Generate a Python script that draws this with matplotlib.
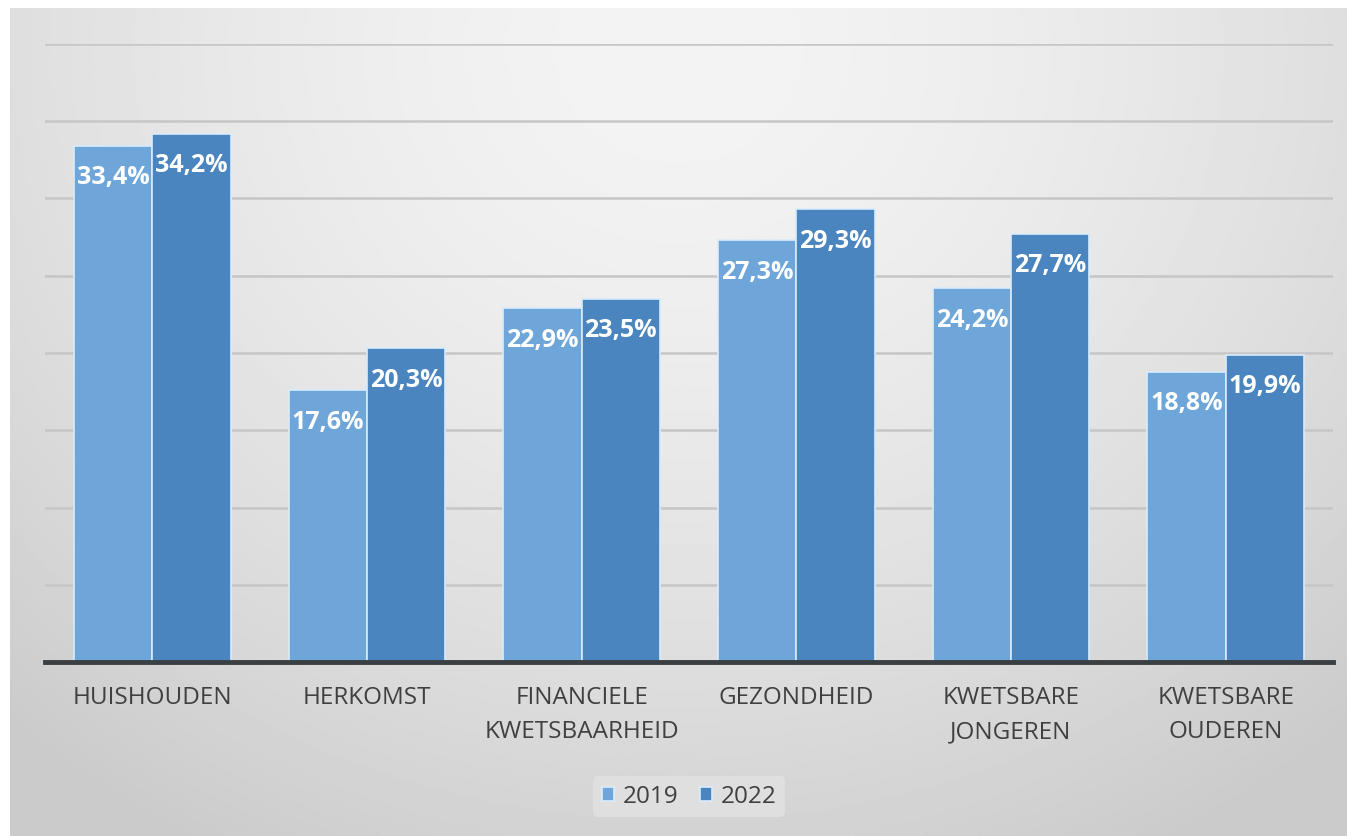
import numpy as np
import matplotlib
matplotlib.use("Agg")
import matplotlib.pyplot as plt

categories = ["HUISHOUDEN", "HERKOMST", "FINANCIELE\nKWETSBAARHEID", "GEZONDHEID",
              "KWETSBARE\nJONGEREN", "KWETSBARE\nOUDEREN"]
years = ["2019", "2022"]
values_2019 = [33.4, 17.6, 22.9, 27.3, 24.2, 18.8]
values_2022 = [34.2, 20.3, 23.5, 29.3, 27.7, 19.9]
colors = ["#6fa6da", "#4a85c0"]

plt.rcParams['font.family'] = ['Open Sans', 'DejaVu Sans']

W, H = 1347, 836
fig = plt.figure(figsize=(W / 100, H / 100), dpi=100)
fig.patch.set_facecolor("white")

# background panel with soft radial gradient
bg = fig.add_axes([10 / W, 0, 1 - 10 / W, 1 - 8 / H])
yy, xx = np.mgrid[0:1:300j, 0:1:500j]
r = np.sqrt(((xx - 0.5) / 0.75) ** 2 + ((yy - 0.05) / 1.1) ** 2)
shade = 0.955 - 0.16 * np.clip(r, 0, 1) ** 1.6
bg.imshow(shade, cmap="gray", vmin=0, vmax=1, aspect="auto", extent=[0, 1, 1, 0])
bg.axis("off")

ax = fig.add_axes([45 / W, 1 - 662 / H, (1333 - 45) / W, (662 - 44) / H])
ax.patch.set_alpha(0)

x = np.arange(len(categories))
bw = 0.365
bars1 = ax.bar(x - bw / 2, values_2019, bw, color=colors[0], edgecolor="#d8ecfb",
               linewidth=1.2, label=years[0], zorder=3)
bars2 = ax.bar(x + bw / 2, values_2022, bw, color=colors[1], edgecolor="#d8ecfb",
               linewidth=1.2, label=years[1], zorder=3)

for bars in (bars1, bars2):
    for b in bars:
        v = b.get_height()
        ax.annotate(f"{v:.1f}%".replace(".", ","), (b.get_x() + b.get_width() / 2, v),
                    xytext=(0, -23), textcoords="offset points", ha="center", va="center",
                    color="white", fontsize=18, fontweight="bold", zorder=4)

ax.set_xlim(-0.5, len(categories) - 0.5)
ax.set_ylim(0, 40)
ax.set_yticks(np.arange(5, 41, 5))
ax.yaxis.grid(True, color="#c6c6c6", linewidth=1.8, zorder=0)
ax.tick_params(axis="y", left=False, labelleft=False)
ax.tick_params(axis="x", bottom=False, pad=14)
ax.set_xticks(x)
ax.set_xticklabels(categories, fontsize=17.5, color="#404040", linespacing=1.55)
for s in ["top", "right", "left"]:
    ax.spines[s].set_visible(False)
ax.spines["bottom"].set_color("#3a3f44")
ax.spines["bottom"].set_linewidth(3.5)
ax.spines["bottom"].set_zorder(5)

leg = ax.legend(loc="center", bbox_to_anchor=(0.5, -0.218), ncol=2, frameon=True,
                fontsize=17.5, handlelength=0.5, handleheight=0.5, handletextpad=0.35,
                columnspacing=0.9, borderpad=0.35)
leg.get_frame().set_facecolor("#e2e2e2")
leg.get_frame().set_edgecolor("none")
for t in leg.get_texts():
    t.set_color("#404040")

fig.savefig("out.png", dpi=100)
